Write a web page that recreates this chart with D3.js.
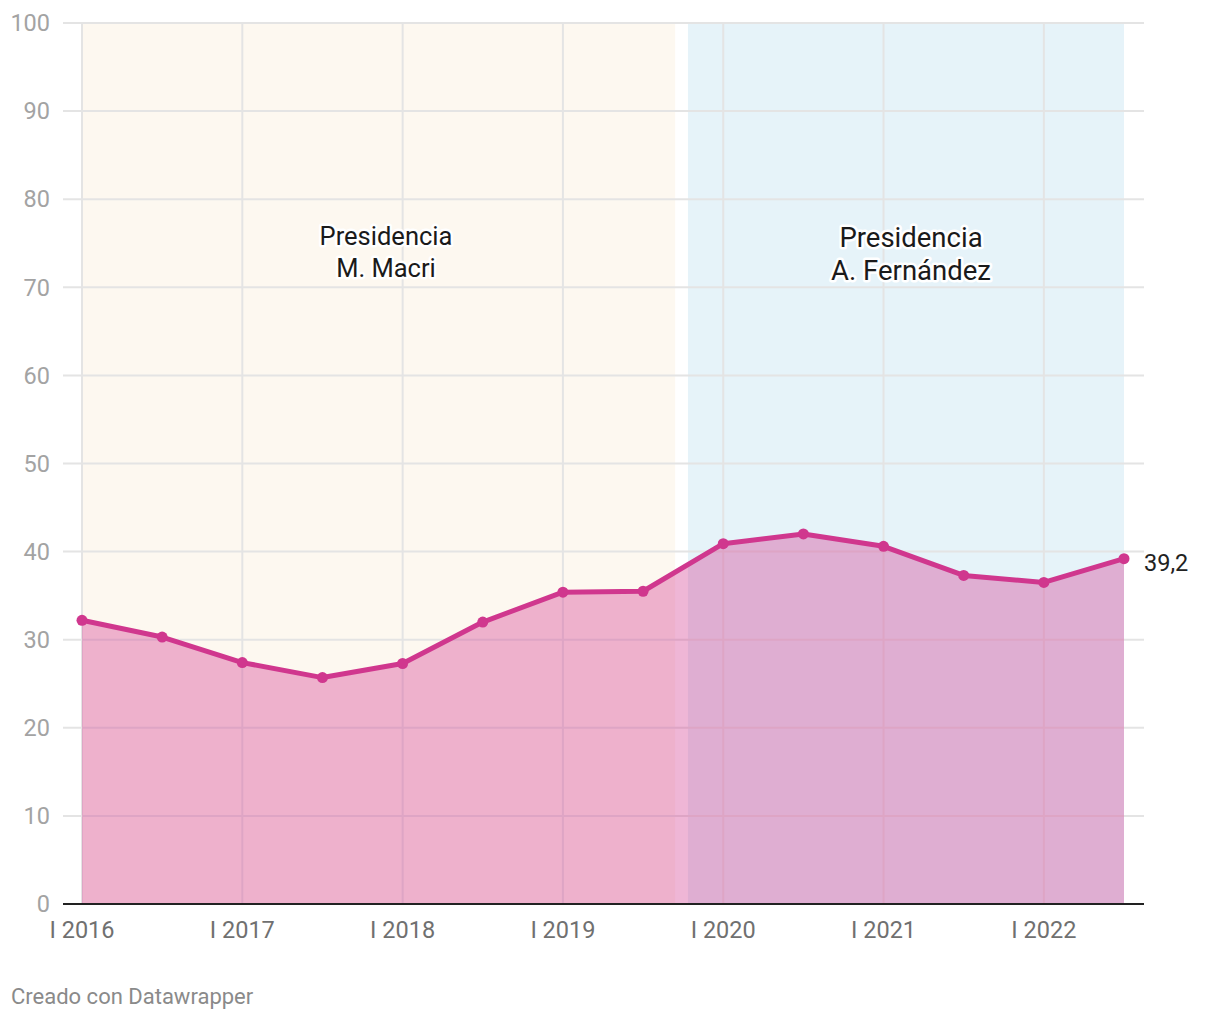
<!DOCTYPE html>
<html><head><meta charset="utf-8">
<script src="https://cdn.jsdelivr.net/npm/d3@7"></script>
<style>
body{margin:0;background:#fff;font-family:Roboto,"Noto Sans",sans-serif;}
</style></head><body>
<svg id="chart" width="1220" height="1020"></svg>
<script>
const periods = ["I 2016","II 2016","I 2017","II 2017","I 2018","II 2018","I 2019","II 2019","I 2020","II 2020","I 2021","II 2021","I 2022","II 2022"];
const values = [32.2,30.3,27.4,25.7,27.3,32.0,35.4,35.5,40.9,42.0,40.6,37.3,36.5,39.2];
const yTicks = [0,10,20,30,40,50,60,70,80,90,100];
const xTickLabels = ["I 2016","I 2017","I 2018","I 2019","I 2020","I 2021","I 2022"];
const regionNames = [["Presidencia","M. Macri"],["Presidencia","A. Fernández"]];
const regionStart = [0, 7.56];
const regionEnd = [7.4, 13];
const regionLabelY = [75, 74.8];

const svg = d3.select("#chart");
const x = d3.scaleLinear().domain([0,13]).range([82,1124]);
const y = d3.scaleLinear().domain([0,100]).range([904,23]);
const idx = p => periods.indexOf(p);

const regionColors = ["#fdf8f0","#e6f3f9"];
svg.selectAll("rect.region").data(regionStart).join("rect")
  .attr("x",(d)=>x(d)).attr("width",(d,i)=>x(regionEnd[i])-x(d))
  .attr("y",y(100)).attr("height",y(0)-y(100))
  .attr("fill",(d,i)=>regionColors[i]);

// horizontal grid
svg.append("g").selectAll("line").data(yTicks.filter(d=>d>0)).join("line")
  .attr("x1",63).attr("x2",1144).attr("y1",d=>y(d)).attr("y2",d=>y(d))
  .attr("stroke","#e4e4e4").attr("stroke-width",2);
// vertical grid
svg.append("g").selectAll("line").data(xTickLabels).join("line")
  .attr("x1",d=>x(idx(d))).attr("x2",d=>x(idx(d))).attr("y1",y(100)).attr("y2",y(0))
  .attr("stroke","#e4e4e4").attr("stroke-width",2);

// y labels
svg.append("g").selectAll("text").data(yTicks).join("text")
  .attr("x",50).attr("y",d=>y(d)).attr("dy","0.35em").attr("text-anchor","end")
  .attr("font-size",23.5).attr("fill","#a3a3a3").text(d=>d);

// area
const area = d3.area().x((d,i)=>x(i)).y0(y(0)).y1(d=>y(d));
svg.append("path").datum(values).attr("d",area)
  .attr("fill","#d4398f").attr("fill-opacity",0.37);

// baseline
svg.append("line").attr("x1",63).attr("x2",1144).attr("y1",y(0)).attr("y2",y(0))
  .attr("stroke","#222").attr("stroke-width",2);

// line
const line = d3.line().x((d,i)=>x(i)).y(d=>y(d));
svg.append("path").datum(values).attr("d",line)
  .attr("fill","none").attr("stroke","#d0378e").attr("stroke-width",5).attr("stroke-linejoin","round");
svg.append("g").selectAll("circle").data(values).join("circle")
  .attr("cx",(d,i)=>x(i)).attr("cy",d=>y(d)).attr("r",5.5).attr("fill","#d0378e");

// value label
svg.append("text").attr("x",x(13)+20).attr("y",y(values[13])+4).attr("dy","0.35em")
  .attr("font-size",23.5).attr("fill","#222").text(String(values[13]).replace(".",","));

// x tick labels
svg.append("g").selectAll("text").data(xTickLabels).join("text")
  .attr("x",d=>x(idx(d))).attr("y",938).attr("text-anchor","middle")
  .attr("font-size",23.5).attr("fill","#707070").text(d=>d);

// region labels
const fs = [25.5,27.5];
const lh = [32,33];
regionNames.forEach((lines,i)=>{
  const cx = i===0 ? 386 : 911;
  const yy = i===0 ? 245 : 247;
  [true,false].forEach(halo=>{
    const t = svg.append("text").attr("x",cx).attr("y",yy)
      .attr("text-anchor","middle").attr("font-size",fs[i]).attr("fill",halo?"#fff":"#1a1a1a");
    if(halo) t.attr("stroke","#fff").attr("stroke-width",5).attr("stroke-linejoin","round");
    lines.forEach((l,j)=>{
      t.append("tspan").attr("x",cx).attr("dy",j===0?0:lh[i]).text(l);
    });
  });
});

// footer
svg.append("text").attr("x",11).attr("y",1004).attr("font-size",22).attr("fill","#8a8a8a")
  .text("Creado con Datawrapper");
</script>
</body></html>
